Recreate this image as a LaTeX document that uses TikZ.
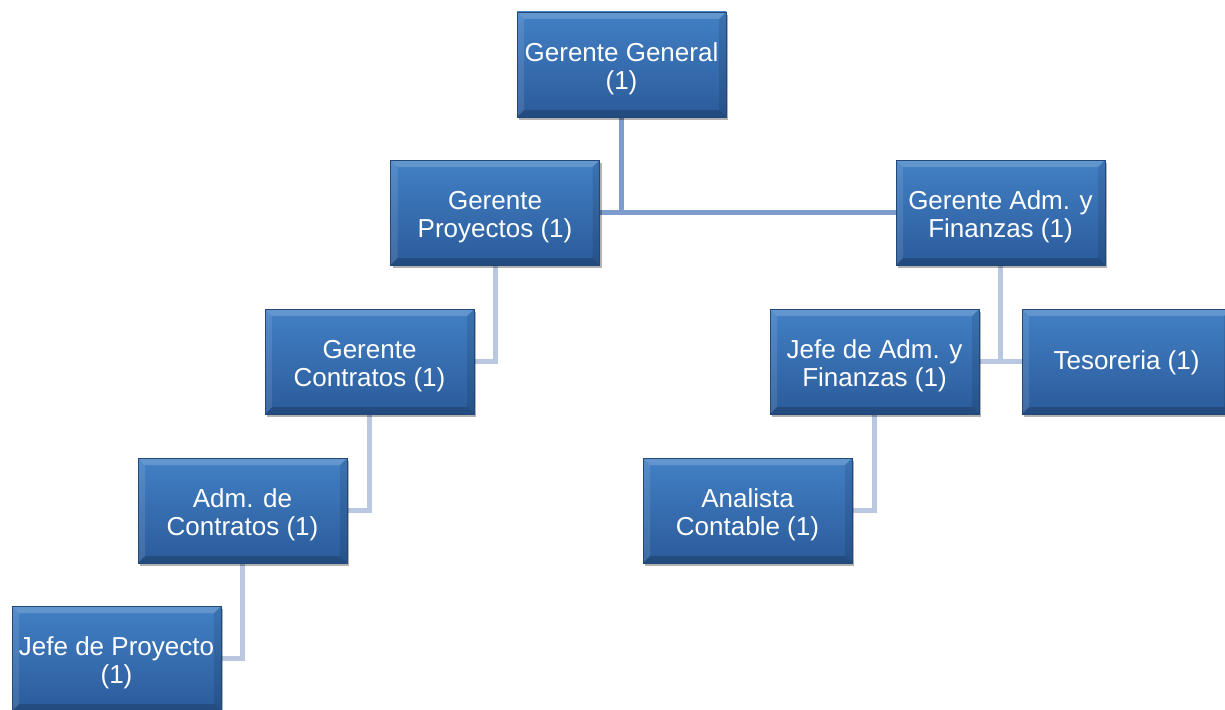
\documentclass[tikz,border=0pt]{standalone}
\usepackage{fontspec}
\setmainfont{Liberation Sans}
\usetikzlibrary{shadows,backgrounds}
\definecolor{boxtop}{RGB}{66,128,197}
\definecolor{boxbot}{RGB}{43,91,154}
\definecolor{boxedge}{RGB}{34,72,122}
\definecolor{connA}{RGB}{125,156,203}
\definecolor{connB}{RGB}{185,200,224}
\newcommand\orgstrut{\rule{0pt}{26.5pt}}
\tikzset{
  orgbox/.style={rectangle, minimum width=209pt, minimum height=105pt, inner sep=0pt,
    text=white, align=center, font=\fontsize{26}{28}\selectfont,
    top color=boxtop, bottom color=boxbot, draw=boxedge, line width=0.6pt,
    drop shadow={shadow xshift=2pt, shadow yshift=-3pt, opacity=0.3, fill=black},
    path picture={
      \fill[white,opacity=0.18] (path picture bounding box.north west) -- (path picture bounding box.north east)
        -- ([shift={(-7pt,-7pt)}]path picture bounding box.north east) -- ([shift={(7pt,-7pt)}]path picture bounding box.north west) -- cycle;
      \fill[white,opacity=0.10] (path picture bounding box.north west) -- ([shift={(7pt,-7pt)}]path picture bounding box.north west)
        -- ([shift={(7pt,7pt)}]path picture bounding box.south west) -- (path picture bounding box.south west) -- cycle;
      \fill[black,opacity=0.18] (path picture bounding box.south west) -- (path picture bounding box.south east)
        -- ([shift={(-7pt,7pt)}]path picture bounding box.south east) -- ([shift={(7pt,7pt)}]path picture bounding box.south west) -- cycle;
      \fill[black,opacity=0.10] (path picture bounding box.north east) -- ([shift={(-7pt,-7pt)}]path picture bounding box.north east)
        -- ([shift={(-7pt,7pt)}]path picture bounding box.south east) -- (path picture bounding box.south east) -- cycle;
    }},
  linkA/.style={draw=connA, line width=5pt},
  linkB/.style={draw=connB, line width=5pt}
}
\begin{document}
\begin{tikzpicture}[x=1pt,y=-1pt]
\useasboundingbox (0,0) rectangle (1225,709);
\node[orgbox] (gg)  at (621.5,64.5)  {\orgstrut Gerente General\\(1)};
\node[orgbox] (gp)  at (495,212.5)   {\orgstrut Gerente\\Proyectos (1)};
\node[orgbox] (ga)  at (1000.5,212.5) {\orgstrut Gerente Adm. y\\Finanzas (1)};
\node[orgbox] (gc)  at (369.5,361.5) {\orgstrut Gerente\\Contratos (1)};
\node[orgbox] (ja)  at (874.5,361.5) {\orgstrut Jefe de Adm. y\\Finanzas (1)};
\node[orgbox] (tes) at (1126.5,361.5) {\rule{0pt}{20.5pt}Tesoreria (1)};
\node[orgbox] (ac)  at (242.5,510.5) {\orgstrut Adm. de\\Contratos (1)};
\node[orgbox] (an)  at (747.5,510.5) {\orgstrut Analista\\Contable (1)};
\node[orgbox] (jp)  at (116.5,658.5) {\orgstrut Jefe de Proyecto\\(1)};
\begin{scope}[on background layer]
\draw[linkA] (gp.east) -- (ga.west);
\draw[linkA] (gg.south) -- (gg.south |- gp.east);
\draw[linkB] (gp.south) |- (gc.east);
\draw[linkB] (gc.south) |- (ac.east);
\draw[linkB] (ac.south) |- (jp.east);
\draw[linkB] (ja.east) -- (tes.west);
\draw[linkB] (ga.south) -- (ga.south |- ja.east);
\draw[linkB] (ja.south) |- (an.east);
\end{scope}
\end{tikzpicture}
\end{document}
